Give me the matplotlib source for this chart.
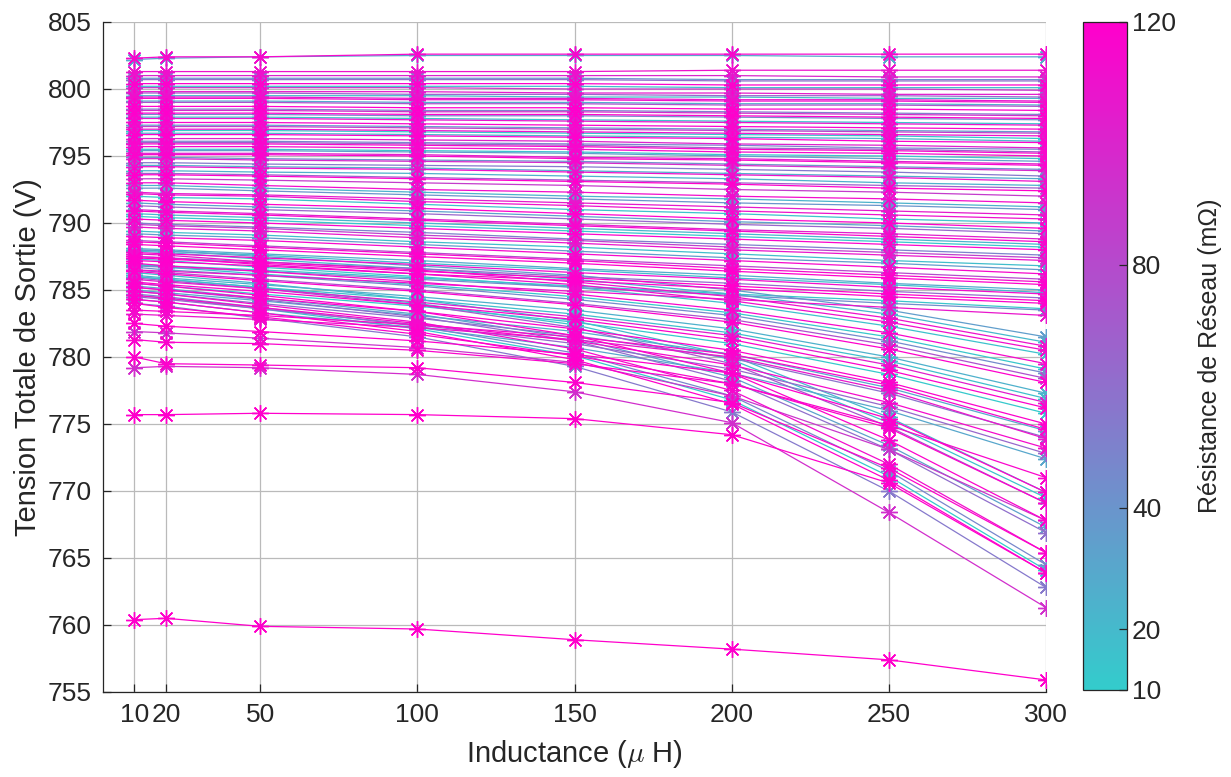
import numpy as np
import matplotlib
matplotlib.use('Agg')
import matplotlib.pyplot as plt
from matplotlib.colors import LinearSegmentedColormap, Normalize
from matplotlib.cm import ScalarMappable

plt.rcParams['font.family'] = ['Liberation Sans', 'DejaVu Sans']
plt.rcParams['mathtext.fontset'] = 'cm'

# Inductance (uH)
inductance = [10, 20, 50, 100, 150, 200, 250, 300]

# courbes quasi plates (haut)
r_plat = [115, 30, 110, 100, 60, 118, 90, 105, 20, 112, 75, 120, 95, 45, 108,
          116, 85, 12, 119, 102, 70, 114, 35, 117, 98, 55, 111, 25, 120, 88,
          40, 18, 65, 28, 52, 14, 38, 22, 48, 16, 42, 26, 68, 107, 119, 111,
          116, 104]
v_plat = [
    [802.3, 802.4, 802.4, 802.6, 802.6, 802.6, 802.6, 802.6],
    [802.2, 802.3, 802.4, 802.5, 802.5, 802.5, 802.4, 802.4],
    [801.3, 801.3, 801.3, 801.3, 801.3, 801.4, 801.4, 801.4],
    [801.0, 801.0, 801.0, 801.0, 801.0, 801.0, 800.9, 800.9],
    [800.7, 800.7, 800.7, 800.7, 800.7, 800.6, 800.6, 800.6],
    [800.4, 800.4, 800.4, 800.4, 800.4, 800.3, 800.3, 800.3],
    [800.1, 800.1, 800.1, 800.1, 800.0, 800.0, 800.0, 799.9],
    [799.8, 799.8, 799.8, 799.8, 799.7, 799.7, 799.6, 799.6],
    [799.5, 799.5, 799.5, 799.5, 799.4, 799.4, 799.3, 799.3],
    [799.3, 799.3, 799.3, 799.2, 799.2, 799.1, 799.1, 799.0],
    [799.0, 799.0, 799.0, 798.9, 798.9, 798.8, 798.8, 798.7],
    [798.7, 798.7, 798.7, 798.6, 798.6, 798.5, 798.5, 798.4],
    [798.4, 798.4, 798.4, 798.3, 798.3, 798.2, 798.1, 798.0],
    [798.1, 798.1, 798.1, 798.0, 798.0, 797.9, 797.8, 797.7],
    [797.8, 797.8, 797.8, 797.7, 797.6, 797.5, 797.4, 797.3],
    [797.5, 797.5, 797.5, 797.4, 797.3, 797.2, 797.1, 797.0],
    [797.2, 797.2, 797.2, 797.1, 797.0, 796.9, 796.8, 796.7],
    [796.9, 796.9, 796.9, 796.8, 796.7, 796.6, 796.5, 796.3],
    [796.6, 796.6, 796.6, 796.5, 796.4, 796.3, 796.1, 796.0],
    [796.3, 796.3, 796.3, 796.2, 796.1, 795.9, 795.8, 795.6],
    [796.0, 796.0, 796.0, 795.9, 795.8, 795.6, 795.5, 795.3],
    [795.7, 795.7, 795.7, 795.6, 795.5, 795.3, 795.2, 795.0],
    [795.4, 795.4, 795.4, 795.3, 795.2, 795.0, 794.8, 794.6],
    [795.1, 795.1, 795.1, 795.0, 794.8, 794.7, 794.5, 794.3],
    [794.8, 794.8, 794.7, 794.6, 794.5, 794.3, 794.1, 793.9],
    [794.5, 794.5, 794.4, 794.3, 794.2, 794.0, 793.8, 793.5],
    [794.2, 794.2, 794.1, 794.0, 793.8, 793.6, 793.4, 793.1],
    [793.9, 793.9, 793.8, 793.7, 793.5, 793.3, 793.0, 792.8],
    [793.6, 793.6, 793.5, 793.3, 793.1, 792.9, 792.6, 792.4],
    [793.3, 793.3, 793.2, 793.0, 792.8, 792.5, 792.3, 792.0],
    [800.8, 800.8, 800.8, 800.8, 800.8, 800.7, 800.7, 800.7],
    [800.2, 800.2, 800.2, 800.2, 800.2, 800.1, 800.1, 800.1],
    [799.7, 799.7, 799.7, 799.6, 799.6, 799.5, 799.5, 799.4],
    [799.1, 799.1, 799.1, 799.0, 799.0, 798.9, 798.9, 798.8],
    [798.5, 798.5, 798.5, 798.4, 798.4, 798.3, 798.2, 798.1],
    [797.9, 797.9, 797.9, 797.8, 797.7, 797.6, 797.5, 797.4],
    [797.3, 797.3, 797.3, 797.2, 797.1, 797.0, 796.9, 796.8],
    [796.7, 796.7, 796.7, 796.6, 796.5, 796.4, 796.3, 796.1],
    [796.1, 796.1, 796.1, 796.0, 795.9, 795.8, 795.6, 795.5],
    [795.5, 795.5, 795.5, 795.4, 795.3, 795.1, 795.0, 794.8],
    [794.9, 794.9, 794.8, 794.7, 794.6, 794.4, 794.2, 794.0],
    [794.3, 794.3, 794.2, 794.1, 793.9, 793.7, 793.5, 793.3],
    [793.7, 793.7, 793.6, 793.4, 793.2, 793.0, 792.8, 792.6],
    [799.4, 799.4, 799.4, 799.3, 799.3, 799.2, 799.2, 799.1],
    [798.2, 798.2, 798.2, 798.1, 798.1, 798.0, 797.9, 797.8],
    [797.0, 797.0, 797.0, 796.9, 796.8, 796.7, 796.6, 796.5],
    [795.9, 795.9, 795.9, 795.8, 795.7, 795.5, 795.4, 795.2],
    [795.2, 795.2, 795.2, 795.1, 794.9, 794.8, 794.6, 794.4],
]

# pente moderee
r_moyen = [113, 40, 106, 15, 119, 65, 103, 22, 117, 50,
           109, 18, 115, 80, 120, 28, 112, 62, 118, 14,
           24, 110, 33, 116, 13, 85, 36, 114, 19, 120, 44, 108]
v_moyen = [
    [793.0, 793.0, 792.8, 792.5, 792.3, 792.0, 791.8, 791.5],
    [792.6, 792.6, 792.4, 792.1, 791.8, 791.5, 791.3, 791.0],
    [792.3, 792.2, 792.1, 791.8, 791.5, 791.2, 790.9, 790.6],
    [792.0, 791.9, 791.8, 791.4, 791.0, 790.7, 790.3, 790.0],
    [791.7, 791.6, 791.4, 791.1, 790.7, 790.3, 790.0, 789.6],
    [791.3, 791.2, 791.0, 790.7, 790.3, 789.9, 789.6, 789.2],
    [791.0, 790.9, 790.7, 790.3, 789.9, 789.5, 789.2, 788.8],
    [790.7, 790.6, 790.4, 790.0, 789.6, 789.2, 788.8, 788.4],
    [790.3, 790.2, 790.0, 789.6, 789.2, 788.8, 788.4, 788.0],
    [790.0, 789.9, 789.7, 789.3, 788.8, 788.4, 788.0, 787.6],
    [789.7, 789.6, 789.4, 788.9, 788.5, 788.0, 787.6, 787.2],
    [789.4, 789.3, 789.1, 788.6, 788.2, 787.7, 787.2, 786.8],
    [789.0, 788.9, 788.7, 788.2, 787.7, 787.2, 786.7, 786.2],
    [788.7, 788.6, 788.3, 787.8, 787.3, 786.8, 786.3, 785.8],
    [788.4, 788.3, 788.0, 787.5, 787.0, 786.4, 785.9, 785.4],
    [788.1, 788.0, 787.7, 787.2, 786.6, 786.1, 785.5, 785.0],
    [787.8, 787.7, 787.4, 786.9, 786.3, 785.8, 785.2, 784.7],
    [787.5, 787.4, 787.1, 786.6, 786.0, 785.5, 784.9, 784.4],
    [787.2, 787.1, 786.8, 786.2, 785.7, 785.1, 784.5, 784.0],
    [786.9, 786.8, 786.5, 785.9, 785.3, 784.7, 784.2, 783.6],
    [792.8, 792.8, 792.6, 792.3, 792.0, 791.8, 791.5, 791.2],
    [792.2, 792.1, 792.0, 791.6, 791.3, 790.9, 790.6, 790.3],
    [791.5, 791.4, 791.2, 790.9, 790.5, 790.1, 789.8, 789.4],
    [790.9, 790.8, 790.6, 790.2, 789.8, 789.4, 789.0, 788.6],
    [790.5, 790.4, 790.2, 789.8, 789.4, 789.0, 788.6, 788.2],
    [789.9, 789.8, 789.6, 789.1, 788.7, 788.2, 787.8, 787.4],
    [789.2, 789.1, 788.9, 788.4, 787.9, 787.4, 787.0, 786.5],
    [788.6, 788.5, 788.2, 787.7, 787.2, 786.6, 786.1, 785.6],
    [788.0, 787.9, 787.6, 787.0, 786.5, 785.9, 785.4, 784.8],
    [787.4, 787.3, 787.0, 786.4, 785.9, 785.3, 784.7, 784.2],
    [786.8, 786.7, 786.4, 785.8, 785.2, 784.6, 784.0, 783.5],
    [786.5, 786.4, 786.1, 785.5, 784.9, 784.3, 783.7, 783.1],
]

# pente forte
r_pente = [35, 110, 16, 116, 45, 120, 25, 104, 12, 119, 58, 114, 30, 117,
           21, 112, 13, 76, 17, 118, 29, 64]
v_pente = [
    [788.0, 787.9, 787.5, 786.8, 786.1, 785.0, 783.5, 781.5],
    [787.7, 787.6, 787.1, 786.5, 785.6, 784.5, 782.9, 780.8],
    [787.3, 787.2, 786.7, 786.0, 785.2, 784.0, 782.3, 780.2],
    [787.0, 786.8, 786.4, 785.6, 784.7, 783.5, 781.8, 779.5],
    [786.7, 786.5, 786.1, 785.3, 784.3, 783.1, 781.2, 778.8],
    [786.4, 786.2, 785.7, 784.9, 783.9, 782.6, 780.6, 778.1],
    [786.1, 785.9, 785.4, 784.5, 783.5, 782.1, 780.0, 777.3],
    [785.8, 785.6, 785.1, 784.1, 783.0, 781.6, 779.4, 776.6],
    [785.5, 785.3, 784.7, 783.8, 782.6, 781.0, 778.7, 775.8],
    [785.2, 785.0, 784.4, 783.4, 782.1, 780.5, 778.1, 775.0],
    [784.9, 784.7, 784.0, 782.9, 781.6, 779.9, 777.3, 774.0],
    [784.6, 784.4, 783.7, 782.5, 781.2, 779.4, 776.6, 773.2],
    [784.3, 784.1, 783.3, 782.2, 780.7, 778.8, 776.0, 772.4],
    [784.0, 783.7, 783.0, 781.7, 780.1, 778.0, 774.9, 771.0],
    [787.9, 787.8, 787.3, 786.6, 785.8, 784.7, 783.2, 781.1],
    [787.5, 787.4, 786.9, 786.2, 785.4, 784.2, 782.6, 780.5],
    [786.9, 786.7, 786.2, 785.4, 784.5, 783.3, 781.5, 779.1],
    [786.5, 786.3, 785.8, 785.0, 784.0, 782.8, 780.9, 778.4],
    [786.0, 785.8, 785.2, 784.3, 783.2, 781.8, 779.7, 776.9],
    [785.6, 785.4, 784.9, 783.9, 782.8, 781.3, 779.0, 776.2],
    [785.0, 784.8, 784.2, 783.1, 781.9, 780.2, 777.7, 774.5],
    [784.5, 784.3, 783.6, 782.4, 781.0, 779.1, 776.3, 772.8],
]

# chute rapide au-dela de 200 uH
r_chute = [20, 72, 118, 60, 113, 11, 120, 55, 15, 33, 47]
v_chute = [
    [786.3, 786.1, 785.5, 784.3, 782.7, 780.1, 775.5, 769.9],
    [785.9, 785.7, 785.1, 783.9, 782.2, 779.5, 774.8, 769.1],
    [785.5, 785.3, 784.6, 783.4, 781.6, 778.8, 773.8, 767.8],
    [785.2, 785.0, 784.3, 783.0, 781.2, 778.2, 773.1, 766.9],
    [784.9, 784.7, 783.9, 782.6, 780.6, 777.5, 772.0, 765.4],
    [784.6, 784.4, 783.6, 782.1, 780.1, 776.8, 771.1, 764.1],
    [784.3, 784.1, 783.3, 781.9, 779.8, 776.5, 770.8, 763.9],
    [784.0, 783.8, 782.9, 781.5, 779.3, 775.9, 770.0, 762.8],
    [786.0, 785.8, 785.2, 784.0, 782.4, 779.8, 775.1, 769.5],
    [785.3, 785.1, 784.4, 783.2, 781.4, 778.5, 773.4, 767.3],
    [784.7, 784.5, 783.7, 782.3, 780.3, 777.1, 771.5, 764.5],
]

# courbes basses isolees
r_bas = [115, 108, 120, 90, 117, 118, 95, 120, 120]
v_bas = [
    [783.5, 783.4, 783.1, 782.4, 781.5, 780.2, 777.9, 774.6],
    [783.2, 783.1, 782.8, 782.2, 781.3, 780.0, 777.5, 773.9],
    [782.5, 782.3, 781.9, 781.2, 780.2, 778.8, 775.4, 769.9],
    [781.9, 781.8, 781.4, 780.7, 779.6, 777.1, 773.1, 767.8],
    [781.3, 781.1, 781.0, 780.5, 779.5, 778.0, 774.7, 769.1],
    [780.0, 779.5, 779.4, 779.2, 778.1, 776.6, 771.7, 765.4],
    [779.2, 779.3, 779.2, 778.7, 777.4, 775.1, 768.4, 761.3],
    [775.7, 775.7, 775.8, 775.7, 775.4, 774.2, 770.6, 763.9],
    [760.4, 760.5, 759.9, 759.7, 758.9, 758.2, 757.4, 755.9],
]

r_ticks = [10, 20, 40, 80, 120]


def main():
    resistances = r_plat + r_moyen + r_pente + r_chute + r_bas
    tensions = v_plat + v_moyen + v_pente + v_chute + v_bas

    cmap = LinearSegmentedColormap.from_list('cyan_magenta', ['#33CCCC', '#FF00CC'])
    norm = Normalize(vmin=10, vmax=120)

    fig = plt.figure(figsize=(12.31, 7.77), dpi=100)
    ax = fig.add_axes([0.0837, 0.1094, 0.766, 0.8623])

    # les fortes resistances sont tracees en dernier
    ordre = np.argsort(resistances, kind='stable')
    for i in ordre:
        ax.plot(inductance, tensions[i], color=cmap(norm(resistances[i])),
                lw=0.9, marker=(8, 2, 0), ms=12, mew=1.0)

    ax.set_xlim(0, 300)
    ax.set_ylim(755, 805)
    ax.set_xticks(inductance)
    ax.set_yticks(np.arange(755, 806, 5))
    ax.grid(True, color='#BABABA', lw=0.9)
    ax.set_axisbelow(True)
    for s in ['top', 'right']:
        ax.spines[s].set_visible(False)
    for s in ['left', 'bottom']:
        ax.spines[s].set_color('#262626')
        ax.spines[s].set_linewidth(0.9)
    ax.tick_params(direction='in', length=6, width=0.9, colors='#262626',
                   labelsize=19, pad=8)
    ax.set_xlabel(r'Inductance ($\mu$ H)', fontsize=21, color='#262626',
                  labelpad=8)
    ax.set_ylabel('Tension Totale de Sortie (V)', fontsize=21, color='#262626')

    cax = fig.add_axes([0.880, 0.112, 0.0357, 0.860])
    sm = ScalarMappable(norm=norm, cmap=cmap)
    cb = fig.colorbar(sm, cax=cax, ticks=r_ticks)
    cb.outline.set_edgecolor('#262626')
    cb.outline.set_linewidth(0.9)
    cax.tick_params(direction='in', length=6, width=0.9, colors='#262626',
                    labelsize=19)
    cb.set_label('Résistance de Réseau (mΩ)', fontsize=18, color='#262626',
                 labelpad=16)

    fig.savefig('out.png', dpi=100)


if __name__ == "__main__":
    main()
